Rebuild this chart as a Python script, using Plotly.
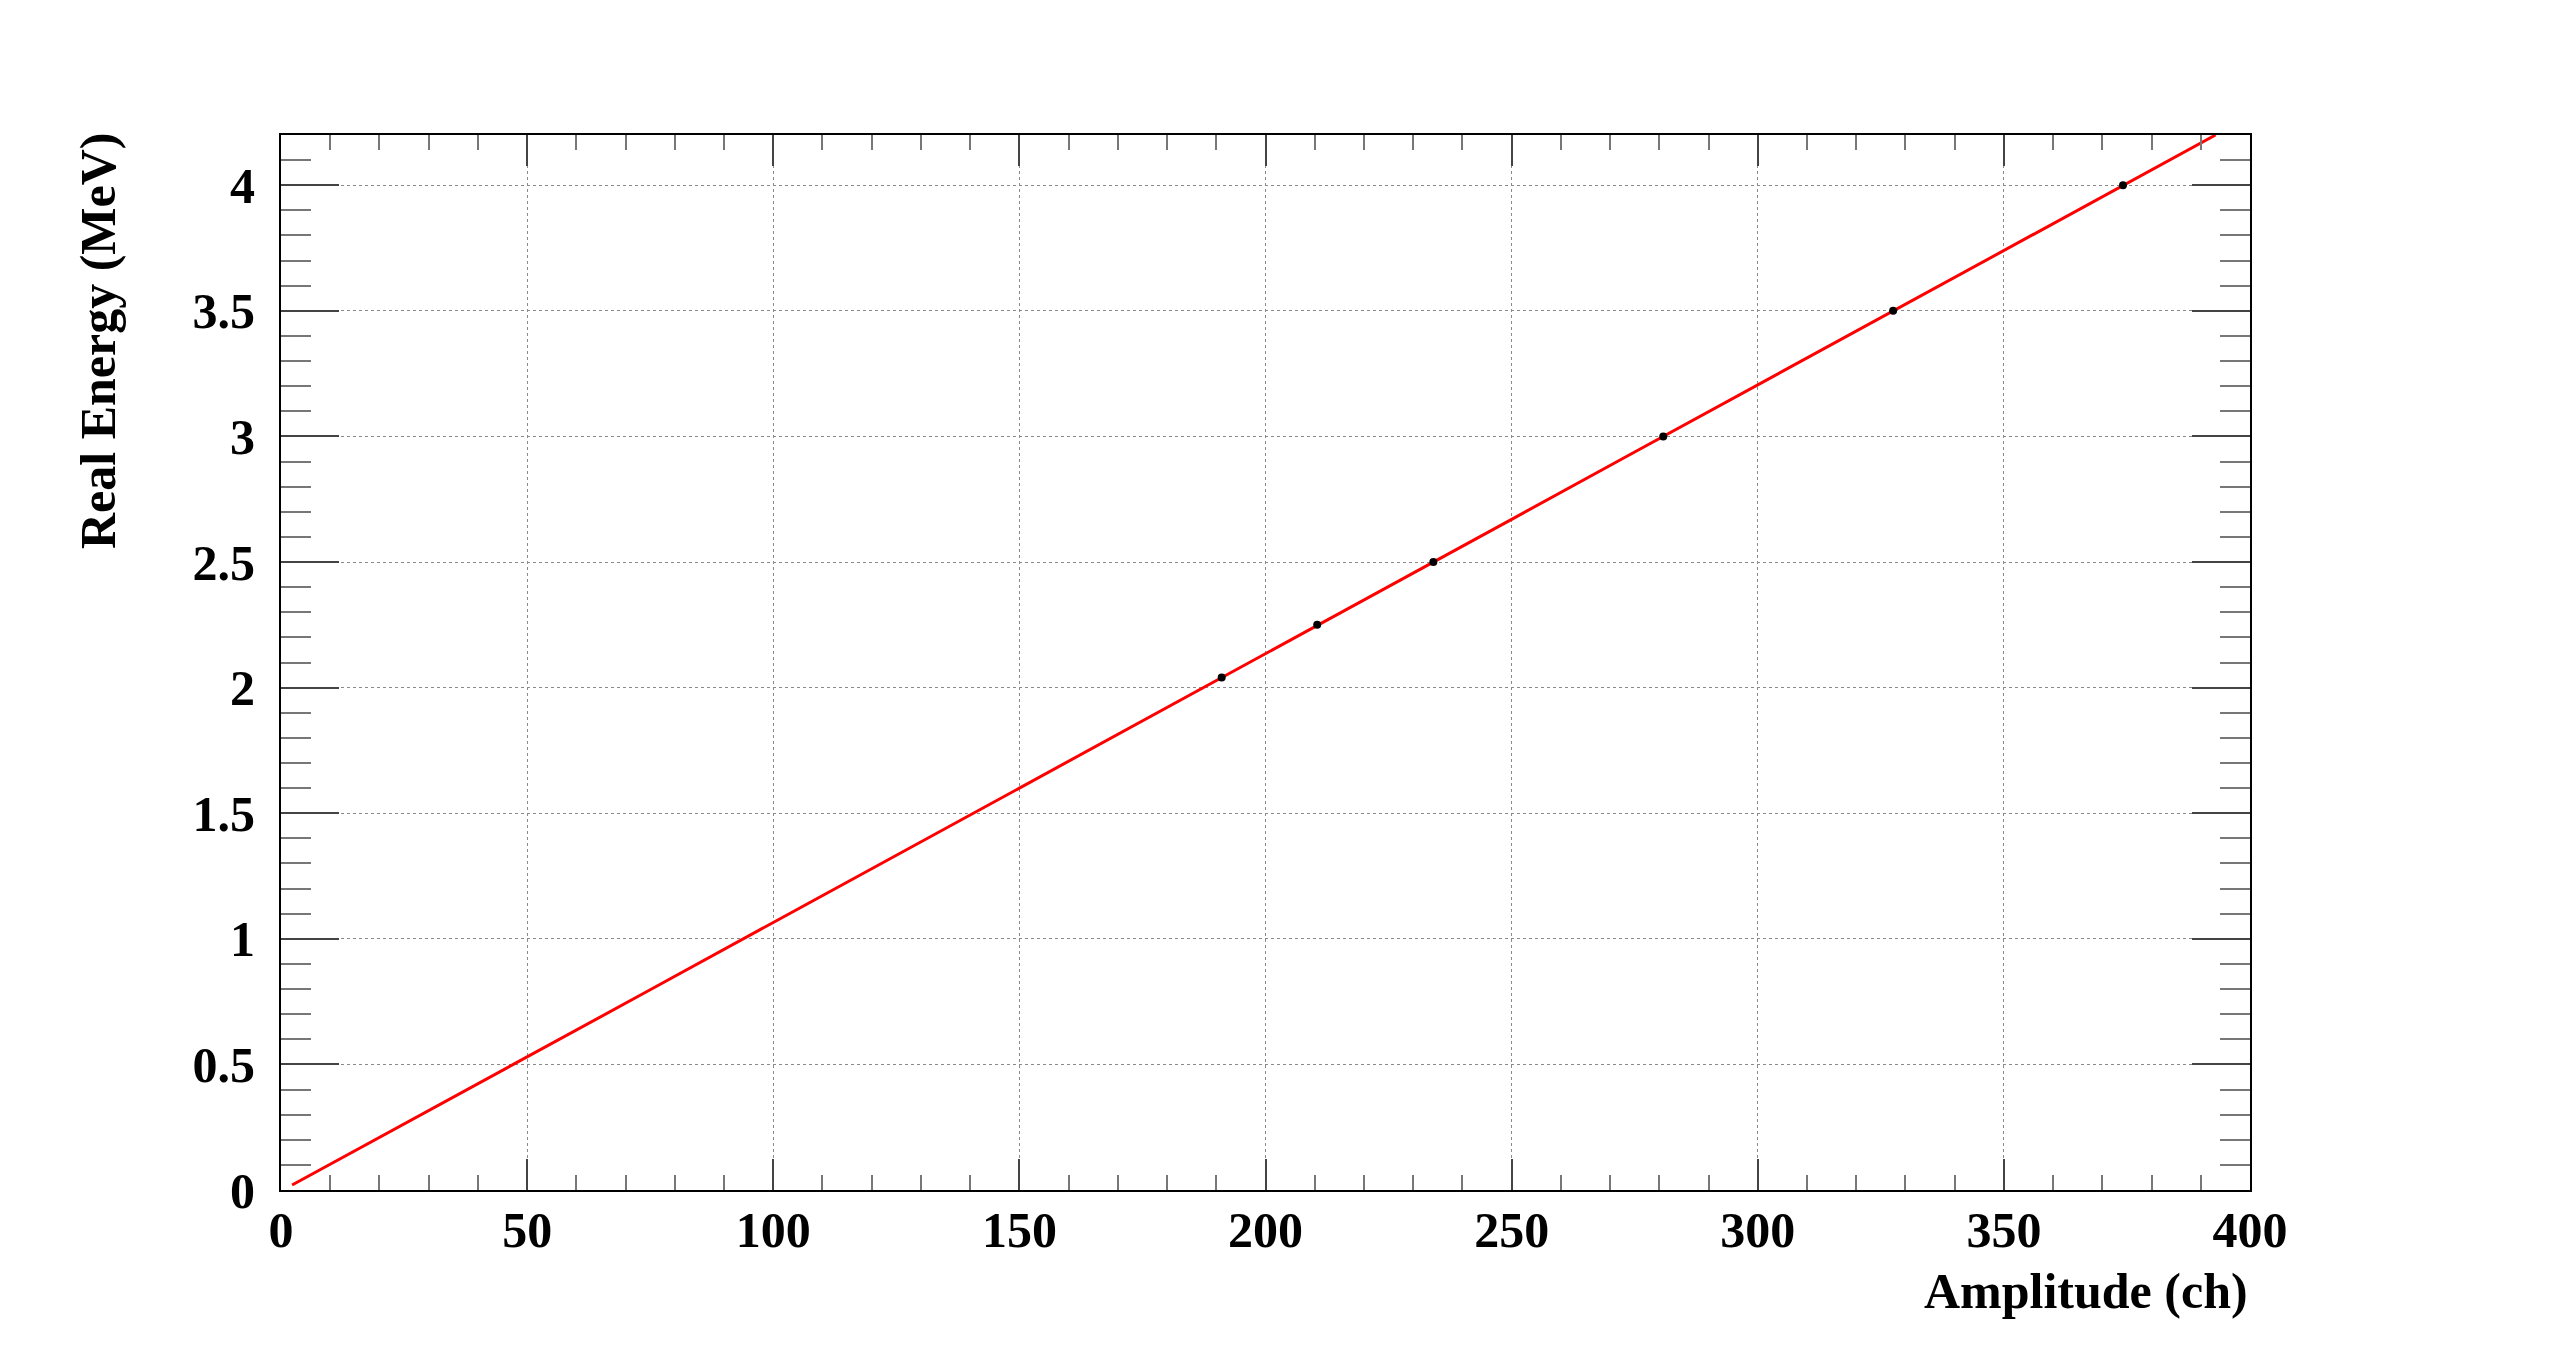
import plotly.graph_objects as go

# Calibration points
amp_points = [191.1, 210.5, 234.1, 280.8, 327.5, 374.2]
energy_points = [2.04, 2.25, 2.50, 3.00, 3.50, 4.00]

# Fitted calibration curve
curve_amp = [2.25, 25, 50, 75, 100, 125, 150, 175, 200, 225, 250, 275, 300, 325, 350, 375, 393.0]
curve_energy = [0.02, 0.262, 0.529, 0.797, 1.065, 1.332, 1.600, 1.868, 2.135, 2.403,
                2.670, 2.938, 3.206, 3.473, 3.741, 4.009, 4.20]

x_ticks = [0, 50, 100, 150, 200, 250, 300, 350, 400]
y_ticks = [0, 0.5, 1, 1.5, 2, 2.5, 3, 3.5, 4]

FONT = "Liberation Serif"

fig = go.Figure()
fig.add_trace(go.Scatter(x=curve_amp, y=curve_energy, mode="lines",
                         line=dict(color="#ff0000", width=3), showlegend=False,
                         cliponaxis=True))
fig.add_trace(go.Scatter(x=amp_points, y=energy_points, mode="markers",
                         marker=dict(color="black", size=8), showlegend=False))

# page body has an 8px default margin
W, H = 2558 - 16, 1362 - 16
L, T = 281 - 8, 135 - 8
PW, PH = 2250 - 281, 1190 - 135
R, B = W - L - PW, H - T - PH

axis_common = dict(
    showline=True, linecolor="black", linewidth=2, mirror="allticks",
    ticks="inside", tickcolor="#444444",
    showgrid=True, gridcolor="#8a8a8a", griddash="dot", gridwidth=1,
    zeroline=False,
    tickfont=dict(family=FONT, size=50, color="black", weight="bold"),
)

fig.update_layout(
    width=W, height=H,
    margin=dict(l=L, r=R, t=T, b=B),
    paper_bgcolor="white", plot_bgcolor="white",
    xaxis=dict(range=[0, 400], tickvals=x_ticks, ticktext=[str(v) for v in x_ticks],
               ticklen=31, tickwidth=2, ticklabelstandoff=-5,
               minor=dict(dtick=10, tick0=0, ticks="inside", ticklen=15, tickcolor="#777777",
                          tickwidth=2, showgrid=False),
               **axis_common),
    yaxis=dict(range=[0, 4.2], tickvals=y_ticks, ticktext=[("%g" % v) for v in y_ticks],
               ticklen=58, tickwidth=2, ticklabelstandoff=14,
               minor=dict(dtick=0.1, tick0=0, ticks="inside", ticklen=30, tickcolor="#777777",
                          tickwidth=2, showgrid=False),
               **axis_common),
    annotations=[
        dict(text="<b>Amplitude (ch)</b>", xref="paper", yref="paper", x=1, y=0,
             xanchor="right", yanchor="middle", yshift=-101, showarrow=False,
             font=dict(family=FONT, size=50, color="black")),
        dict(text="<b>Real Energy (MeV)</b>", xref="paper", yref="paper", x=0, y=0.8047,
             xanchor="center", yanchor="middle", xshift=-183, textangle=-90, showarrow=False,
             font=dict(family=FONT, size=50, color="black")),
    ],
)

fig.write_html("out.html")
